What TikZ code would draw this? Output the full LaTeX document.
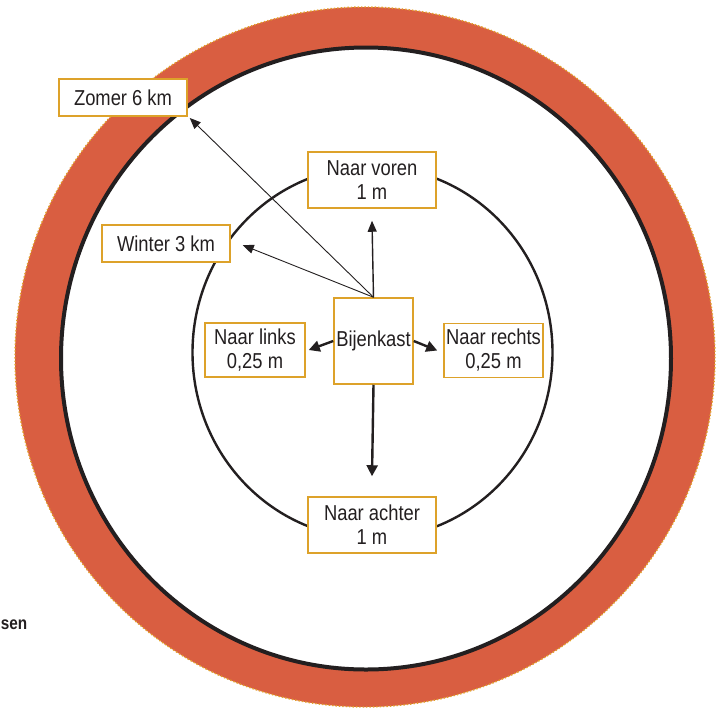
\documentclass[tikz,border=0pt]{standalone}
\usepackage{fontspec}
\setmainfont{Liberation Sans}[FakeStretch=0.85]
\usetikzlibrary{arrows.meta}
\definecolor{ringred}{HTML}{D95E41}
\definecolor{ringedge}{HTML}{E2A12A}
\definecolor{boxgold}{HTML}{DDA22A}
\definecolor{inkgray}{HTML}{231F20}
\begin{document}
\begin{tikzpicture}[x=0.5pt, y=-0.5pt, font=\fontsize{10.8}{12}\selectfont, text=inkgray,
  every node/.style={rectangle, draw=boxgold, line width=0.75pt, fill=white, align=center, inner sep=0pt},
  thinarrow/.style={draw=inkgray, line width=0.45pt, -{Triangle[length=5.5pt, width=4.5pt]}},
  thickarrow/.style={draw=inkgray, line width=1.2pt, -{Triangle[length=5.5pt, width=5.5pt]}}]

\useasboundingbox (0,0) rectangle (724,709);

% Draw the rings
\fill[ringred] (365,357) ellipse [x radius=350, y radius=350];
\draw[ringedge, line width=0.7pt, densely dotted] (365,357) ellipse [x radius=350, y radius=350];
\draw[inkgray, line width=2pt, fill=white] (366,358.5) ellipse [x radius=305, y radius=311];
\draw[inkgray, line width=1.2pt] (372.5,352.5) ellipse [x radius=180, y radius=186];

% Place the boxes
\node[minimum width=39.5pt, minimum height=43pt] (bijen) at (373.5,341) {Bijenkast};
\node[minimum width=64pt, minimum height=28pt] (voren) at (372,180) {Naar voren\\1 m};
\node[minimum width=64pt, minimum height=28pt] (achter) at (372,525) {Naar achter\\1 m};
\node[minimum width=50pt, minimum height=27pt] (links) at (255,350) {Naar links\\0,25 m};
\node[minimum width=49.5pt, minimum height=27pt] (rechts) at (493.5,350.5) {Naar rechts\\0,25 m};
\node[minimum width=64pt, minimum height=18.5pt] (zomer) at (123,97.5) {Zomer 6 km};
\node[minimum width=64pt, minimum height=18.5pt] (winter) at (166,243.5) {Winter 3 km};

% Draw the arrows
\draw[thinarrow] (bijen.north) -- ([xshift=1pt, yshift=-0.6pt]zomer.south east);
\draw[thinarrow] (bijen.north) -- ([xshift=6pt, yshift=-0.8pt]winter.east);
\draw[thinarrow, line width=0.7pt] (bijen.north) -- ([yshift=-6pt]voren.south);
\draw[thickarrow] (bijen.south) -- ([yshift=10pt]achter.north);
\draw[thickarrow] (bijen.west) -- ([xshift=1.5pt]links.east);
\draw[thickarrow] (bijen.east) -- ([xshift=-3pt]rechts.west);

\node[draw=none, fill=none, anchor=east, font=\fontsize{9}{11}\selectfont\bfseries] (sen) at (28,625) {sen};

\end{tikzpicture}
\end{document}
